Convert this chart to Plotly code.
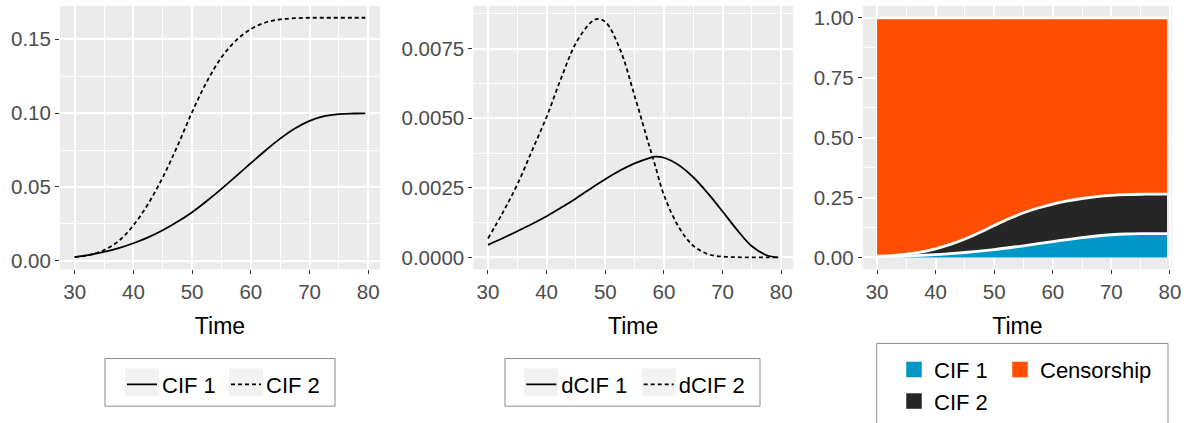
import plotly.graph_objects as go

# ---------------- data ----------------
time = [30, 32.5, 35, 37.5, 40, 42.5, 45, 47.5, 50, 52.5, 55, 57.5,
        60, 62.5, 65, 67.5, 70, 72.5, 75, 77.5, 79.5]

cif1 = [0.0025, 0.0040, 0.0060, 0.0086, 0.0119, 0.0159, 0.0207, 0.0264,
        0.0329, 0.0405, 0.0487, 0.0573, 0.0661, 0.0747, 0.0827, 0.0895,
        0.0947, 0.0979, 0.0993, 0.0997, 0.0998]

cif2 = [0.0025, 0.0040, 0.0073, 0.0135, 0.0240, 0.0385, 0.0565, 0.0777,
        0.1007, 0.1212, 0.1377, 0.1492, 0.1568, 0.1613, 0.1634, 0.1642,
        0.1645, 0.1645, 0.1645, 0.1645, 0.1645]

dtime = [30, 32.5, 35, 37.5, 40, 42.5, 45, 47.5, 48.5, 50, 52.5, 55, 57.5,
         58.5, 60, 62.5, 65, 67.5, 70, 72.5, 75, 77.5, 79.5]

dcif1 = [0.00045, 0.00069, 0.00094, 0.00120, 0.00148, 0.00179, 0.00212,
         0.00247, 0.00261, 0.00281, 0.00312, 0.00338, 0.00357, 0.00362,
         0.00358, 0.00332, 0.00288, 0.00230, 0.00165, 0.00098, 0.00040,
         0.00008, 0.00000]

dcif2 = [0.00068, 0.00160, 0.00262, 0.00383, 0.00505, 0.00645, 0.00770,
         0.00843, 0.00856, 0.00846, 0.00748, 0.00580, 0.00400, 0.00330,
         0.00224, 0.00110, 0.00042, 0.00012, 0.00003, 0.00001, 0.00000,
         0.00000, 0.00000]

censorship = [1 - a - b for a, b in zip(cif1, cif2)]

x_ticks = [30, 40, 50, 60, 70, 80]
y1_ticks = [0.00, 0.05, 0.10, 0.15]
y2_ticks = [0.0000, 0.0025, 0.0050, 0.0075]
y3_ticks = [0.00, 0.25, 0.50, 0.75, 1.00]

# ---------------- styling ----------------
W, H = 1187, 423
FONT = "Liberation Sans, Arial, Helvetica, sans-serif"
BLUE, DARK, ORANGE = "#0096C7", "#262626", "#FF4E00"
KEYBG = "#F2F2F2"
BOX = "#8C8C8C"

fig = go.Figure()

# panel 1
fig.add_trace(go.Scatter(x=time, y=cif1, mode="lines", name="CIF 1",
                         line=dict(color="black", width=1.8, shape="spline"),
                         xaxis="x", yaxis="y", legend="legend"))
fig.add_trace(go.Scatter(x=time, y=cif2, mode="lines", name="CIF 2",
                         line=dict(color="black", width=1.8, shape="spline", dash="4px,3px"),
                         xaxis="x", yaxis="y", legend="legend"))
# panel 2
fig.add_trace(go.Scatter(x=dtime, y=dcif1, mode="lines", name="dCIF 1",
                         line=dict(color="black", width=1.8, shape="spline"),
                         xaxis="x2", yaxis="y2", legend="legend2"))
fig.add_trace(go.Scatter(x=dtime, y=dcif2, mode="lines", name="dCIF 2",
                         line=dict(color="black", width=1.8, shape="spline", dash="4px,3px"),
                         xaxis="x2", yaxis="y2", legend="legend2"))
# panel 3 (stacked areas)
for name, vals, col in [("CIF 1", cif1, BLUE), ("CIF 2", cif2, DARK),
                        ("Censorship", censorship, ORANGE)]:
    fig.add_trace(go.Scatter(x=time, y=vals, mode="lines", name=name,
                             stackgroup="one", fillcolor=col,
                             line=dict(color="white", width=2.8, shape="spline"),
                             xaxis="x3", yaxis="y3", showlegend=False))
# legend entries for panel 3
for name, col, lg in [("CIF 1", BLUE, "legend3"), ("CIF 2", DARK, "legend3"),
                      ("Censorship", ORANGE, "legend4")]:
    fig.add_trace(go.Scatter(x=[None], y=[None], mode="markers", name=name,
                             marker=dict(symbol="square", size=16, color=col,
                                         line=dict(color="white", width=0.5)),
                             xaxis="x3", yaxis="y3", legend=lg))

axis_common = dict(
    showgrid=True, gridcolor="white", gridwidth=1.6,
    zeroline=False, showline=False,
    ticks="outside", ticklen=4, tickwidth=1.3, tickcolor="#333333",
    tickfont=dict(family=FONT, size=20.5, color="#4D4D4D"),
    automargin=False,
)

def xax(domain, rng):
    return dict(axis_common, domain=domain, range=rng, tickvals=x_ticks,
                minor=dict(dtick=5, tick0=0, showgrid=True, gridcolor="white", gridwidth=0.8, ticks=""),
                title=dict(text="Time", font=dict(family=FONT, size=23, color="black"), standoff=15))

def yax(domain, rng, tv, fmt, mdt):
    return dict(axis_common, domain=domain, range=rng, tickvals=tv, tickformat=fmt,
                minor=dict(dtick=mdt, tick0=0, showgrid=True, gridcolor="white", gridwidth=0.8, ticks=""))

ydom = [1 - 272 / H, 1 - 6 / H]

def lg(x, y, orient="h", ew=None):
    d = dict(orientation=orient, xanchor="left", yanchor="top", traceorder="normal",
             bgcolor="rgba(0,0,0,0)", borderwidth=0,
             font=dict(family=FONT, size=22, color="black"), x=x / W, y=1 - y / H)
    if ew is not None:
        d.update(entrywidth=ew, entrywidthmode="pixels")
    return d

def rect(x0, y0, x1, y1, fill="rgba(0,0,0,0)", line=None):
    return dict(type="rect", xref="paper", yref="paper", layer="above",
                x0=x0 / W, x1=x1 / W, y0=1 - y1 / H, y1=1 - y0 / H,
                fillcolor=fill, line=line or dict(width=0))

shapes = [
    # legend boxes
    rect(105, 362, 335, 410, line=dict(color=BOX, width=1)),
    rect(505, 362, 760, 410, line=dict(color=BOX, width=1)),
    rect(876.7, 346.7, 1168, 440, line=dict(color=BOX, width=1)),
    # legend key backgrounds
    rect(125, 372, 159, 400, fill=KEYBG),
    rect(229, 372, 263, 400, fill=KEYBG),
    rect(524, 372, 558, 400, fill=KEYBG),
    rect(642, 372, 676, 400, fill=KEYBG),
]

fig.update_layout(
    width=W, height=H,
    margin=dict(l=0, r=0, t=0, b=0),
    paper_bgcolor="white", plot_bgcolor="#EBEBEB",
    font=dict(family=FONT),
    xaxis=dict(xax([60 / W, 380 / W], [27.5, 82]), anchor="y"),
    yaxis=dict(yax(ydom, [-0.0058, 0.1725], y1_ticks, ".2f", 0.025), anchor="x"),
    xaxis2=dict(xax([473.3 / W, 793 / W], [27.5, 82]), anchor="y2"),
    yaxis2=dict(yax(ydom, [-0.00043, 0.00903], y2_ticks, ".4f", 0.00125), anchor="x2"),
    xaxis3=dict(xax([862.7 / W, 1172 / W], [27.55, 80.35]), anchor="y3"),
    yaxis3=dict(yax(ydom, [-0.05, 1.05], y3_ticks, ".2f", 0.125), anchor="x3"),
    legend=lg(122, 367, ew=59),
    legend2=lg(521.3, 367, ew=72.4),
    legend3=lg(894, 352, orient="v"),
    legend4=lg(1000, 352, orient="v"),
    shapes=shapes,
)

fig.write_html("out.html", config={"displayModeBar": False},
               post_script="document.body.style.margin='0px';")
